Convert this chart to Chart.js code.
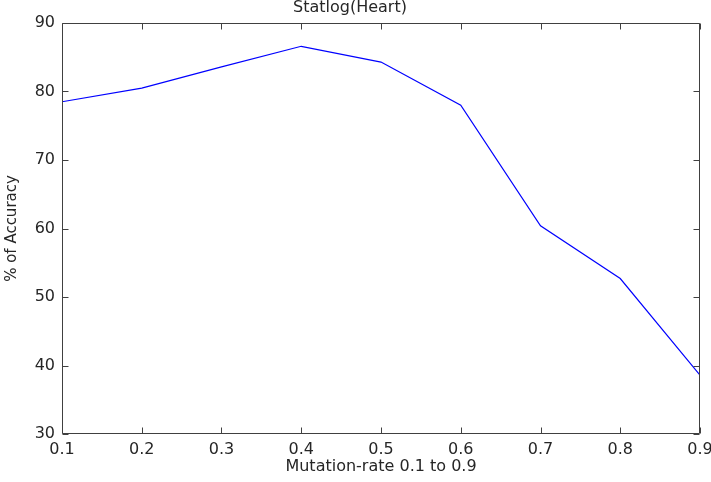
<!DOCTYPE html>
<html>
<head>
<meta charset="utf-8">
<script src="https://cdn.jsdelivr.net/npm/chart.js@4"></script>
<style>
  html, body { margin: 0; padding: 0; background: #ffffff; }
  #wrap { width: 711px; height: 482px; }
</style>
</head>
<body>
<div id="wrap"><canvas id="c" width="711" height="482"></canvas></div>
<script>
const chartTitle = 'Statlog(Heart)';
const xAxisTitle = 'Mutation-rate 0.1 to 0.9';
const yAxisTitle = '% of Accuracy';
const mutationRates = [0.1, 0.2, 0.3, 0.4, 0.5, 0.6, 0.7, 0.8, 0.9];
const accuracy = [78.5, 80.5, 83.6, 86.6, 84.3, 78.0, 60.4, 52.7, 38.6];
const xTickValues = [0.1, 0.2, 0.3, 0.4, 0.5, 0.6, 0.7, 0.8, 0.9];
const xTickLabels = ['0.1', '0.2', '0.3', '0.4', '0.5', '0.6', '0.7', '0.8', '0.9'];
const yTickValues = [30, 40, 50, 60, 70, 80, 90];
const yTickLabels = ['30', '40', '50', '60', '70', '80', '90'];

const textColor = '#262626';
const frameColor = '#404040';
const fontFamily = '"DejaVu Sans", sans-serif';

const framePlugin = {
  id: 'frame',
  afterDatasetsDraw(chart) {
    const ctx = chart.ctx;
    const a = chart.chartArea;
    const L = Math.round(a.left) + 0.5, R = Math.round(a.right) - 0.5;
    const T = Math.round(a.top) + 0.5, B = Math.round(a.bottom) - 0.5;
    const tl = 6;
    ctx.save();
    ctx.strokeStyle = frameColor;
    ctx.lineWidth = 1;
    ctx.beginPath();
    ctx.rect(L, T, R - L, B - T);
    const xs = chart.scales.x, ys = chart.scales.y;
    xTickValues.forEach(v => {
      const px = Math.round(xs.getPixelForValue(v)) + 0.5;
      ctx.moveTo(px, B); ctx.lineTo(px, B - tl);
      ctx.moveTo(px, T); ctx.lineTo(px, T + tl);
    });
    yTickValues.forEach(v => {
      const py = Math.round(ys.getPixelForValue(v)) + 0.5;
      ctx.moveTo(L, py); ctx.lineTo(L + tl, py);
      ctx.moveTo(R, py); ctx.lineTo(R - tl, py);
    });
    ctx.stroke();
    ctx.restore();
  }
};

new Chart(document.getElementById('c'), {
  type: 'line',
  data: {
    datasets: [{
      data: mutationRates.map((x, i) => ({ x: x, y: accuracy[i] })),
      borderColor: '#0000ff',
      borderWidth: 1.2,
      pointRadius: 0,
      tension: 0,
      fill: false
    }]
  },
  options: {
    responsive: false,
    animation: false,
    events: [],
    layout: { padding: { left: 0, right: 11, top: 0, bottom: 0 } },
    plugins: {
      legend: { display: false },
      tooltip: { enabled: false },
      title: {
        display: true,
        text: chartTitle,
        color: textColor,
        font: { family: fontFamily, size: 16, weight: 'normal', lineHeight: 1.0 },
        padding: { top: 0, bottom: 7 }
      }
    },
    scales: {
      x: {
        type: 'linear',
        min: 0.1,
        max: 0.9,
        afterBuildTicks(scale) { scale.ticks = xTickValues.map(v => ({ value: v })); },
        afterFit(scale) { scale.height = 48; scale.paddingLeft = 0; scale.paddingRight = 0; },
        grid: { display: false, drawTicks: false },
        border: { display: false },
        ticks: {
          color: textColor,
          font: { family: fontFamily, size: 16 },
          padding: 6,
          maxRotation: 0,
          autoSkip: false,
          callback(value) {
            const i = xTickValues.findIndex(v => Math.abs(v - value) < 1e-9);
            return i >= 0 ? xTickLabels[i] : '';
          }
        },
        title: {
          display: true,
          text: xAxisTitle,
          color: textColor,
          font: { family: fontFamily, size: 16 },
          padding: { top: 0, bottom: 6 }
        }
      },
      y: {
        type: 'linear',
        min: 30,
        max: 90,
        afterBuildTicks(scale) { scale.ticks = yTickValues.map(v => ({ value: v })); },
        afterFit(scale) { scale.width = 62; scale.paddingTop = 0; scale.paddingBottom = 0; },
        grid: { display: false, drawTicks: false },
        border: { display: false },
        ticks: {
          color: textColor,
          font: { family: fontFamily, size: 16 },
          padding: 7,
          autoSkip: false,
          callback(value) {
            const i = yTickValues.indexOf(value);
            return i >= 0 ? yTickLabels[i] : '';
          }
        },
        title: {
          display: true,
          text: yAxisTitle,
          color: textColor,
          font: { family: fontFamily, size: 15 },
          padding: { top: 3, bottom: 0 }
        }
      }
    }
  },
  plugins: [framePlugin]
});
</script>
</body>
</html>
